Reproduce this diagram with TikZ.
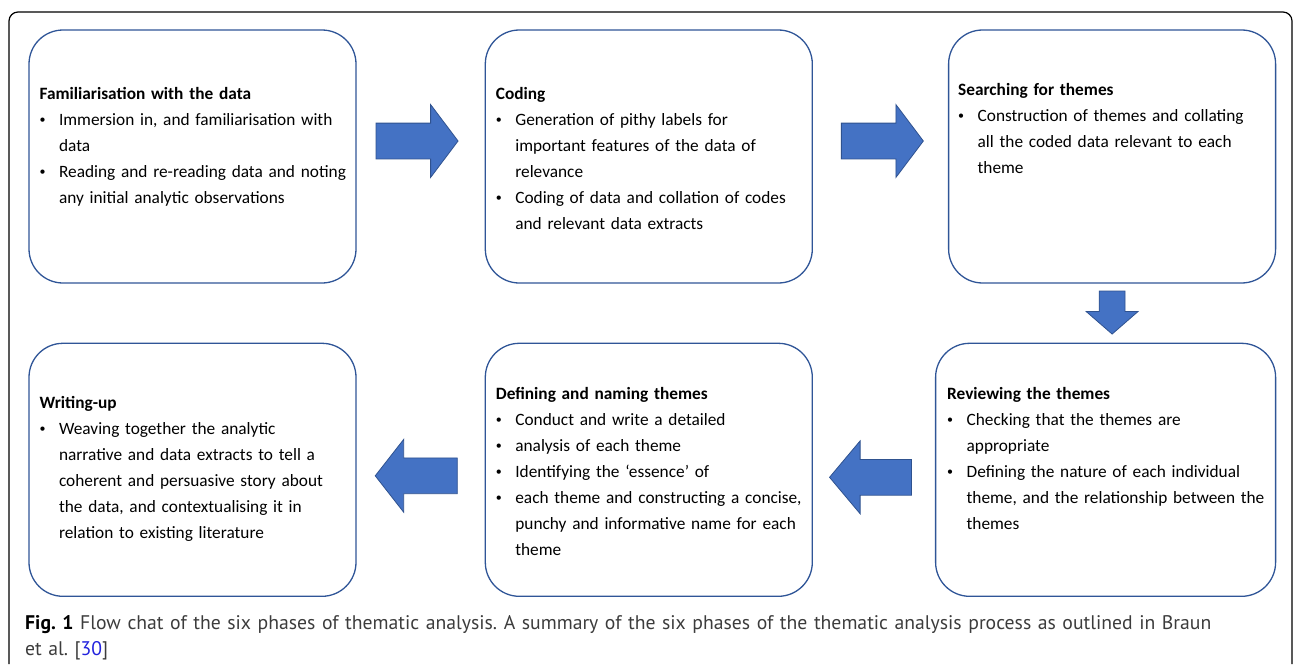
\documentclass[tikz,border=0pt]{standalone}
\usepackage{fontspec}
\setmainfont{Carlito}
\newfontfamily\capfont{PT Sans}
\usepackage{enumitem}
\usetikzlibrary{positioning,shapes.arrows}

\definecolor{boxline}{RGB}{47,85,151}
\definecolor{arrowfill}{RGB}{68,114,196}
\definecolor{arrowedge}{RGB}{47,82,143}
\definecolor{captext}{RGB}{60,60,60}
\definecolor{linkblue}{RGB}{34,34,221}

\setlist[itemize]{label=\raisebox{1.6pt}{\fontsize{12}{12}\selectfont\textbullet}, leftmargin=19.5pt,
labelwidth=8pt, labelsep=11.5pt, labelindent=-1pt, align=left, itemsep=0pt, topsep=0pt, parsep=0pt, partopsep=0pt}

\tikzstyle{phase} = [rectangle, rounded corners=34pt, minimum width=327pt, 
minimum height=253pt, draw=boxline, line width=1.3pt, inner sep=0pt]
\tikzstyle{phaseText} = [anchor=north west, text width=330pt, align=left, inner sep=0pt,
font=\fontsize{17.3}{26}\selectfont]
\tikzstyle{blockArrow} = [single arrow, draw=arrowedge, fill=arrowfill, line width=0.8pt,
inner xsep=0pt, inner ysep=17.5pt, single arrow head extend=18.5pt, minimum height=82pt]

\begin{document}
\frenchspacing
\begin{tikzpicture}[x=1pt,y=-1pt]
			\useasboundingbox (0,0) rectangle (1295,664);
			\draw [line width=1.2pt, rounded corners=9pt] (9,664) -- (9,12) -- (1292,12) -- (1292,664);
			
			\node (familiar) [phase] at (192.5,156.5) {};
			\node (coding) [phase, right=128pt of familiar] {};
			\node (searching) [phase, right=135pt of coding] {};
			\node (reviewing) [phase, minimum width=340pt, below=59pt of searching.south east, anchor=north east] {};
			\node (defining) [phase, below=59pt of coding] {};
			\node (writing) [phase, below=59pt of familiar] {};
			
			\node (familiarText) [phaseText] at ([xshift=11pt, yshift=-57.5pt]familiar.north west) {\textbf{Familiarisation with the data}
				\begin{itemize}
					\item Immersion in, and familiarisation with\\ data
					\item Reading and re-reading data and noting\\ any initial analytic observations
				\end{itemize}};
			\node (codingText) [phaseText] at ([xshift=11pt, yshift=-57.5pt]coding.north west) {\textbf{Coding}
				\begin{itemize}
					\item Generation of pithy labels for\\ important features of the data of\\ relevance
					\item Coding of data and collation of codes\\ and relevant data extracts
				\end{itemize}};
			\node (searchingText) [phaseText] at ([xshift=10pt, yshift=-53.5pt]searching.north west) {\textbf{Searching for themes}
				\begin{itemize}
					\item Construction of themes and collating\\ all the coded data relevant to each\\ theme
				\end{itemize}};
			\node (reviewingText) [phaseText] at ([xshift=12pt, yshift=-44.5pt]reviewing.north west) {\textbf{Reviewing the themes}
				\begin{itemize}
					\item Checking that the themes are\\ appropriate
					\item Defining the nature of each individual\\ theme, and the relationship between the\\ themes
				\end{itemize}};
			\node (definingText) [phaseText] at ([xshift=11pt, yshift=-44.5pt]defining.north west) {\textbf{Defining and naming themes}
				\begin{itemize}
					\item Conduct and write a detailed
					\item analysis of each theme
					\item Identifying the ‘essence’ of
					\item each theme and constructing a concise,\\ punchy and informative name for each\\ theme
				\end{itemize}};
			\node (writingText) [phaseText] at ([xshift=11pt, yshift=-53.5pt]writing.north west) {\textbf{Writing-up}
				\begin{itemize}
					\item Weaving together the analytic\\ narrative and data extracts to tell a\\ coherent and persuasive story about\\ the data, and contextualising it in\\ relation to existing literature
				\end{itemize}};
			
			\node (arrowOne) [blockArrow, single arrow tip angle=106, right=19pt of familiar, yshift=15.5pt] {};
			\node (arrowTwo) [blockArrow, single arrow tip angle=106, right=28pt of coding, yshift=15.5pt] {};
			\node (arrowThree) [blockArrow, shape border rotate=270, inner sep=12.5pt, single arrow head extend=13pt,
				minimum height=43pt, single arrow tip angle=98, below=7pt of searching] {};
			\node (arrowFour) [blockArrow, shape border rotate=180, single arrow tip angle=100, left=23pt of reviewing, yshift=-7.5pt] {};
			\node (arrowFive) [blockArrow, shape border rotate=180, single arrow tip angle=104, left=27pt of defining, yshift=-6pt] {};
			
			\node (caption) [anchor=north west, text width=1250pt, align=left, inner sep=0pt, text=captext,
				font=\capfont\fontsize{19.7}{26}\selectfont] at (25,615.5) {{\color{black}\textbf{Fig. 1}} Flow chat of the six phases of thematic analysis. A summary of the six phases of the thematic analysis process as outlined in Braun\\ et al. [{\color{linkblue}30}]};
			
		\end{tikzpicture}
\end{document}
